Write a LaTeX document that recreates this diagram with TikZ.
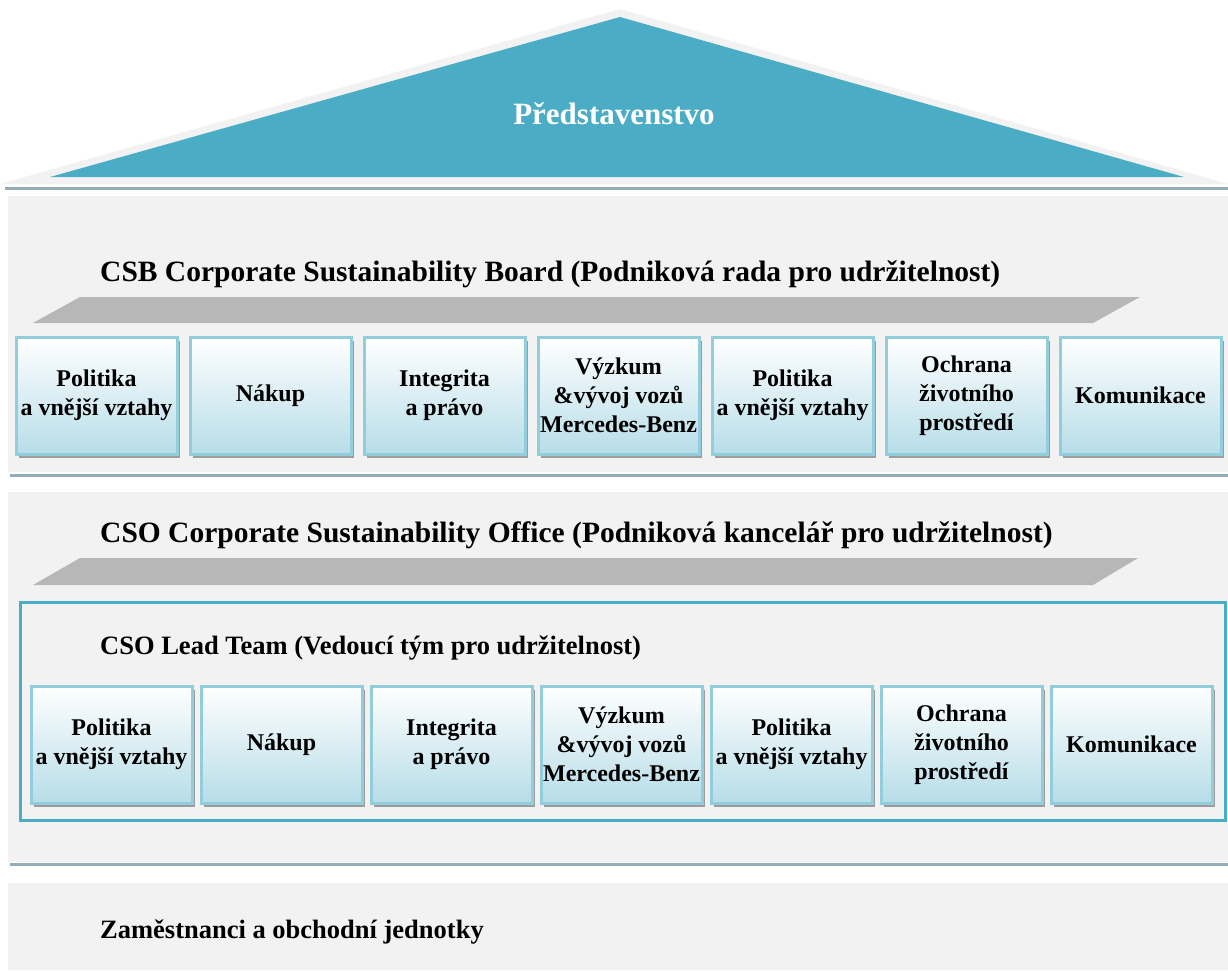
\documentclass[tikz,border=0pt]{standalone}
\usepackage{fontspec}
\setmainfont{Liberation Serif}
\usepackage{xcolor}
\usepackage{tikz}
\usetikzlibrary{shadows}

\definecolor{bandgrey}{HTML}{F2F2F2}
\definecolor{roofblue}{HTML}{4BACC6}
\definecolor{ledgeline}{HTML}{93ADB6}
\definecolor{slabgrey}{HTML}{B7B7B7}
\definecolor{boxedge}{HTML}{92CDDC}
\definecolor{boxblue}{HTML}{B7DDE8}

\tikzset{
    unitbox/.style={draw=boxedge, line width=3pt, top color=white, bottom color=boxblue,
        minimum width=161pt, minimum height=117pt, anchor=north west,
        inner xsep=0pt, inner ysep=2pt, align=center,
        font=\bfseries\fontsize{24}{29}\selectfont,
        drop shadow={shadow xshift=3pt, shadow yshift=-4pt, fill=black!50, opacity=0.75}},
    bandtitle/.style={anchor=base west, inner sep=0pt, font=\bfseries\fontsize{29.5}{34}\selectfont},
    subtitle/.style={anchor=base west, inner sep=0pt, font=\bfseries\fontsize{26.5}{32}\selectfont},
    ledge/.style={ledgeline, line width=3pt}
}

\begin{document}
\begin{tikzpicture}[x=1pt, y=-1pt]
    \useasboundingbox (0,0) rectangle (1228,970);
    \fill[white] (0,0) rectangle (1228,970);

    % Roof
    \fill[bandgrey] (0,184) -- (620,9) -- (1228,184) -- cycle;
    \fill[roofblue] (50,177) -- (620,17) -- (1184,177) -- cycle;
    \draw[ledge] (5,188) -- (1228,188);
    \node[anchor=base, text=white, font=\bfseries\fontsize{31}{36}\selectfont] (board) at (614,124) {Představenstvo};

    % Bands
    \fill[bandgrey] (8,196) rectangle (1228,472);
    \draw[ledge] (10,475) -- (1228,475);
    \fill[bandgrey] (8,492) rectangle (1228,862);
    \draw[ledge] (10,864) -- (1228,864);
    \fill[bandgrey] (8,883) rectangle (1228,970);

    % CSB
    \node[bandtitle] (csb) at (100,281) {CSB Corporate Sustainability Board (Podniková rada pro udržitelnost)};
    \fill[slabgrey] (80,297) -- (1140,297) -- (1093,323) -- (33,323) -- cycle;
    \foreach \lbl [count=\i] in {{Politika\\ a vnější vztahy}, {Nákup}, {Integrita\\ a právo},
            {Výzkum\\ \&vývoj vozů\\ Mercedes-Benz}, {Politika\\ a vnější vztahy},
            {Ochrana\\ životního\\ prostředí}, {Komunikace}} {
        \pgfmathsetmacro{\x}{14.5 + (\i-1)*174}
        \node[unitbox] (csb\i) at (\x,335.5) {\lbl};
    }

    % CSO
    \node[bandtitle] (cso) at (100,542) {CSO Corporate Sustainability Office (Podniková kancelář pro udržitelnost)};
    \fill[slabgrey] (80,558) -- (1138,558) -- (1093,585) -- (33,585) -- cycle;
    \draw[roofblue, line width=3pt] (20,602) rectangle (1225,820);
    \node[subtitle] (lead) at (100,654) {CSO Lead Team (Vedoucí tým pro udržitelnost)};
    \foreach \lbl [count=\i] in {{Politika\\ a vnější vztahy}, {Nákup}, {Integrita\\ a právo},
            {Výzkum\\ \&vývoj vozů\\ Mercedes-Benz}, {Politika\\ a vnější vztahy},
            {Ochrana\\ životního\\ prostředí}, {Komunikace}} {
        \pgfmathsetmacro{\x}{29.5 + (\i-1)*170}
        \node[unitbox] (lead\i) at (\x,684.5) {\lbl};
    }

    % Staff
    \node[subtitle] (staff) at (100,938) {Zaměstnanci a obchodní jednotky};
\end{tikzpicture}
\end{document}
